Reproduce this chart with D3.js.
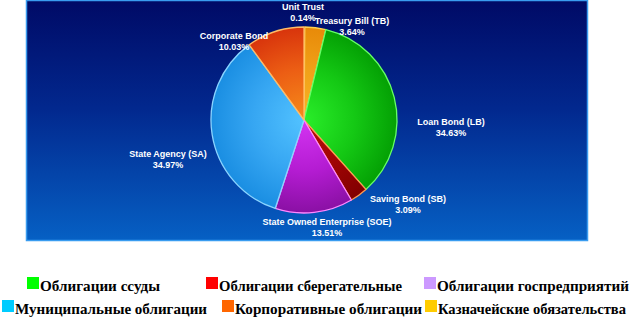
<!DOCTYPE html>
<html>
<head>
<meta charset="utf-8">
<script src="https://cdn.jsdelivr.net/npm/d3@7"></script>
<style>
  body { margin: 0; background: #fff; }
  svg { display: block; }
</style>
</head>
<body>
<div id="chart"></div>
<script>
// slices, clockwise from 12 o'clock
const names = ['Unit Trust', 'Treasury Bill (TB)', 'Loan Bond (LB)', 'Saving Bond (SB)',
               'State Owned Enterprise (SOE)', 'State Agency (SA)', 'Corporate Bond'];
const shares = [0.14, 3.64, 34.63, 3.09, 13.51, 34.97, 10.03];

// legend (separate block under the chart, in Russian)
const legendNames = ['Облигации ссуды', 'Облигации сберегательные', 'Облигации госпредприятий',
                     'Муниципальные облигации', 'Корпоративные облигации', 'Казначейские обязательства'];
const legendColors = ['#00ff00', '#ff0000', '#cc99ff', '#00ccff', '#ff6600', '#ffcc00'];

const W = 642, H = 327;
const cx = 304, cy = 120, R = 93;

// slice fills: [centre, middle, rim, stroke]
const sliceStyle = [
  ['#7a0a2a', '#6a0420', '#5a0018', '#3a0010'],
  ['#f8b424', '#f0a018', '#e88a08', '#ffd050'],
  ['#2aee2a', '#14c814', '#04a004', '#66ff66'],
  ['#b80c0c', '#a00404', '#800000', '#ff9a50'],
  ['#d434f2', '#b41cd2', '#8a10a4', '#ff88ff'],
  ['#52c2ff', '#36a6f2', '#1a8ee2', '#8ad4ff'],
  ['#f68c1a', '#ec5e14', '#d8340c', '#ffbb66']
];

// hand placed label anchors (centre of first line)
const labelAt = [
  [303, 10], [352, 24], [451, 125], [408, 202], [327, 225], [168, 157], [234, 39]
];
// reference widths of the legend texts
const legendWidth = [120, 183, 192, 192, 187, 188];

const svg = d3.select('#chart').append('svg')
  .attr('width', W).attr('height', H);

const defs = svg.append('defs');
const bg = defs.append('linearGradient').attr('id', 'bg')
  .attr('x1', 0).attr('y1', 0).attr('x2', 0).attr('y2', 1);
bg.append('stop').attr('offset', '0%').attr('stop-color', '#000a66');
bg.append('stop').attr('offset', '45%').attr('stop-color', '#02288e');
bg.append('stop').attr('offset', '100%').attr('stop-color', '#0660c4');

// the pie group is translated, so the gradient centre is its origin
sliceStyle.forEach((s, i) => {
  const g = defs.append('radialGradient').attr('id', 'sl' + i)
    .attr('gradientUnits', 'userSpaceOnUse')
    .attr('cx', 0).attr('cy', 0).attr('r', R);
  g.append('stop').attr('offset', '0%').attr('stop-color', s[0]);
  g.append('stop').attr('offset', '55%').attr('stop-color', s[1]);
  g.append('stop').attr('offset', '100%').attr('stop-color', s[2]);
});

// panel
svg.append('rect')
  .attr('x', 26.5).attr('y', 0.5)
  .attr('width', 561).attr('height', 240)
  .attr('fill', 'url(#bg)')
  .attr('stroke', '#3a9cf0').attr('stroke-width', 1.5);

// pie
const pie = d3.pie().sort(null).value(d => d)(shares);
const arc = d3.arc().innerRadius(0).outerRadius(R);

svg.append('g')
  .attr('transform', `translate(${cx},${cy})`)
  .selectAll('path')
  .data(pie)
  .join('path')
  .attr('d', arc)
  .attr('fill', (d, i) => `url(#sl${i})`)
  .attr('stroke', (d, i) => sliceStyle[i][3])
  .attr('stroke-width', 1.3)
  .attr('stroke-linejoin', 'round');

// labels
const lab = svg.append('g')
  .attr('font-family', 'Arial, "Liberation Sans", sans-serif')
  .attr('font-size', 9)
  .attr('font-weight', 'bold')
  .attr('fill', '#fff')
  .attr('text-anchor', 'middle');

names.forEach((n, i) => {
  const t = lab.append('text')
    .attr('x', labelAt[i][0]).attr('y', labelAt[i][1]);
  t.append('tspan').attr('x', labelAt[i][0]).text(n);
  t.append('tspan').attr('x', labelAt[i][0]).attr('dy', 10.5)
    .text(shares[i].toFixed(2) + '%');
});

// legend, two rows of three
const legX = [[27, 206, 424], [2, 222, 425]];
const legY = [277, 300];
const leg = svg.append('g')
  .attr('font-family', '"Times New Roman", "Liberation Serif", serif')
  .attr('font-size', 15)
  .attr('font-weight', 'bold')
  .attr('fill', '#000');

legendNames.forEach((n, i) => {
  const r = Math.floor(i / 3), c = i % 3;
  const x = legX[r][c], y = legY[r];
  leg.append('rect')
    .attr('x', x).attr('y', y)
    .attr('width', 12).attr('height', 12)
    .attr('fill', legendColors[i]);
  leg.append('text')
    .attr('x', x + 13).attr('y', y + 14)
    .attr('textLength', legendWidth[i])
    .attr('lengthAdjust', 'spacingAndGlyphs')
    .text(n);
});
</script>
</body>
</html>
